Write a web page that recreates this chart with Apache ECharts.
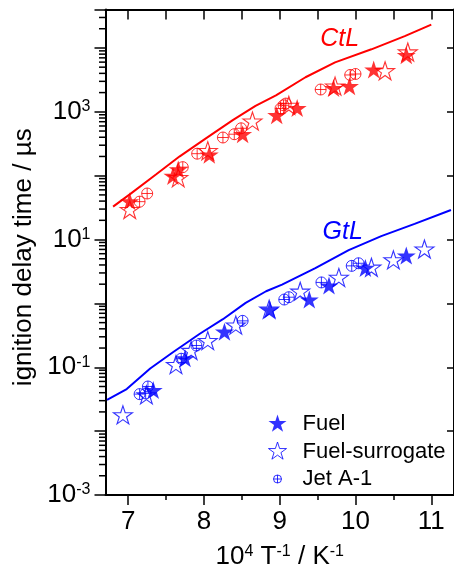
<!DOCTYPE html>
<html><head><meta charset="utf-8">
<script src="https://cdn.jsdelivr.net/npm/echarts@6/dist/echarts.min.js"></script>
<style>html,body{margin:0;padding:0;background:#fff}#c{width:454px;height:575px}</style>
</head><body><div id="c"></div>
<script>
// ---------- data ----------
const xMin = 6.7, xMax = 11.3, yMin = 0.001, yMax = 40000;
const xTickValues = [7, 8, 9, 10, 11];
const xHalfTicks = [7.5, 8.5, 9.5, 10.5];
const xTopTicks = [7, 7.5, 8, 8.5, 9, 9.5, 10, 10.5, 11];
const yLabelExps = [-3, -1, 1, 3];
const yMinorMultipliers = [2, 3, 4, 5, 6, 7, 8, 9];
const yDecades = [-3, -2, -1, 0, 1, 2, 3, 4];

const ctlX = [6.80, 7.02, 7.37, 7.68, 8.03, 8.38, 8.68, 8.95, 9.34, 9.73, 10.21, 10.65, 11.0];
const ctlY = [32.8, 51, 105, 201, 387, 741, 1238, 1806, 3478, 5933, 9520, 15290, 23200];
const gtlX = [6.72, 6.98, 7.29, 7.59, 7.94, 8.25, 8.55, 8.82, 9.03, 9.47, 9.91, 10.34, 10.78, 11.26];
const gtlY = [0.0308, 0.0456, 0.0955, 0.172, 0.332, 0.566, 1.02, 1.55, 1.97, 3.56, 6.84, 11.3, 17.6, 29.0];

const redFuelX = [7.02, 7.59, 7.66, 8.07, 8.51, 8.96, 9.23, 9.71, 9.92, 10.24, 10.67];
const redFuelY = [39.6, 99, 125, 213, 446, 886, 1145, 2350, 2520, 4590, 7690];
const redSurrX = [7.02, 7.66, 8.05, 8.64, 9.12, 9.73, 10.39, 10.69];
const redSurrY = [29.5, 93, 246, 716, 1265, 2520, 4400, 8650];
const redJetX = [7.15, 7.25, 7.72, 7.91, 8.25, 8.40, 8.49, 9.01, 9.05, 9.08, 9.54, 9.93, 10.00];
const redJetY = [39.2, 52.6, 136, 221, 396, 446, 552, 1125, 1266, 1346, 2235, 3776, 3910];

const blueFuelX = [7.33, 7.75, 8.27, 8.87, 9.39, 9.65, 10.13, 10.67];
const blueFuelY = [0.044, 0.138, 0.36, 0.80, 1.15, 1.90, 3.6, 5.6];
const blueSurrX = [6.93, 7.24, 7.63, 7.83, 8.05, 8.42, 8.86, 9.27, 9.78, 10.21, 10.50, 10.91];
const blueSurrY = [0.018, 0.037, 0.110, 0.183, 0.261, 0.457, 0.81, 1.55, 2.55, 3.68, 4.80, 7.10];
const blueJetX = [7.15, 7.23, 7.26, 7.70, 7.90, 8.51, 9.06, 9.12, 9.55, 9.95, 10.04];
const blueJetY = [0.038, 0.039, 0.050, 0.136, 0.219, 0.533, 1.15, 1.25, 2.13, 3.87, 4.25];

const ctlLabelPos = [9.79, 13600];
const gtlLabelPos = [9.83, 13.1];

// ---------- chart ----------
const FONT = '"Liberation Sans", Arial, Helvetica, sans-serif';
const RED = '#ff0000', BLUE = '#0000ff', BLACK = '#000000';
const STAR = 'path://M50 0 L61.2 34.55 L97.55 34.55 L68.2 55.9 L79.4 90.45 L50 69.1 L20.6 90.45 L31.8 55.9 L2.45 34.55 L38.8 34.55 Z';
const CPLUS = 'path://M0 10 A10 10 0 1 1 20 10 A10 10 0 1 1 0 10 Z M10 0 L10 20 M0 10 L20 10';
const LEG_STAR = 'path://M0 0 M40 20 M20 0.5 L22.13 7.06 L29.03 7.06 L23.45 11.12 L25.59 17.69 L20 13.63 L14.41 17.69 L16.55 11.12 L10.97 7.06 L17.87 7.06 Z';
const LEG_CPLUS = 'path://M0 0 M40 20 M16 10 A4 4 0 1 1 24 10 A4 4 0 1 1 16 10 Z M20 6 L20 14 M16 10 L24 10';
const HOLLOW = 'rgba(0,0,0,0)';

const zip = (xs, ys) => xs.map((x, i) => [x, ys[i]]);
const yMinorTicks = [];
yDecades.forEach(d => yMinorMultipliers.forEach(m => {
  const v = m * Math.pow(10, d);
  if (v < yMax) yMinorTicks.push(v);
}));

function fuel(color, data) {
  return { name: 'Fuel', type: 'scatter', data, symbol: STAR, symbolSize: [19, 18],
    itemStyle: { color: color, borderWidth: 0 }, silent: true, z: 4 };
}
function surr(color, data) {
  return { name: 'Fuel-surrogate', type: 'scatter', data, symbol: STAR, symbolSize: [19, 18],
    itemStyle: { color: HOLLOW, borderColor: color, borderWidth: 1.1 }, silent: true, z: 5 };
}
function jet(color, data) {
  return { name: 'Jet A-1', type: 'scatter', data, symbol: CPLUS, symbolSize: 11,
    itemStyle: { color: HOLLOW, borderColor: color, borderWidth: 1 }, silent: true, z: 4 };
}
function simLine(name, color, data, labelPos) {
  return { name, type: 'line', data, symbol: 'none', smooth: false, silent: true, z: 2,
    lineStyle: { color, width: 2 },
    markPoint: { symbol: 'circle', symbolSize: 0, silent: true,
      label: { show: true, formatter: name, position: 'inside', color, fontSize: 25,
        fontStyle: 'italic', fontFamily: FONT },
      data: [{ coord: labelPos }] } };
}

const supRich = { sup: { fontSize: 16, fontFamily: FONT, color: BLACK, verticalAlign: 'top', lineHeight: 16 } };

const option = {
  animation: false,
  backgroundColor: '#ffffff',
  grid: { left: 105.5, top: 9.5, width: 350.7, height: 491.2, containLabel: false },
  legend: {
    orient: 'vertical', left: 257, top: 413, padding: 0, itemWidth: 40, itemHeight: 20, itemGap: 5.5,
    selectedMode: false,
    textStyle: { fontSize: 22, fontFamily: FONT, color: BLACK },
    data: [
      { name: 'Fuel', icon: LEG_STAR, itemStyle: { color: BLUE, borderWidth: 0 } },
      { name: 'Fuel-surrogate', icon: LEG_STAR, itemStyle: { color: HOLLOW, borderColor: BLUE, borderWidth: 1 } },
      { name: 'Jet A-1', icon: LEG_CPLUS, itemStyle: { color: HOLLOW, borderColor: BLUE, borderWidth: 1 } }
    ]
  },
  xAxis: [
    { type: 'value', position: 'bottom', min: xMin, max: xMax,
      axisLine: { show: true, onZero: false, lineStyle: { color: BLACK, width: 2 } },
      axisTick: { show: true, inside: false, length: 10, customValues: xTickValues, lineStyle: { color: BLACK, width: 1.5 } },
      axisLabel: { show: true, customValues: xTickValues, fontSize: 26, fontFamily: FONT, color: BLACK, margin: 14 },
      splitLine: { show: false },
      name: '10{sup|4} T{sup|-1} / K{sup|-1}', nameLocation: 'middle', nameGap: 49,
      nameTextStyle: { fontSize: 26, fontFamily: FONT, color: BLACK, rich: supRich } },
    { type: 'value', position: 'bottom', min: xMin, max: xMax,
      axisLine: { show: false, onZero: false },
      axisTick: { show: true, inside: false, length: 5, customValues: xHalfTicks, lineStyle: { color: BLACK, width: 1.5 } },
      axisLabel: { show: false }, splitLine: { show: false } },
    { type: 'value', position: 'top', min: xMin, max: xMax,
      axisLine: { show: true, onZero: false, lineStyle: { color: BLACK, width: 2 } },
      axisTick: { show: true, inside: true, length: 10, customValues: xTopTicks, lineStyle: { color: BLACK, width: 1.5 } },
      axisLabel: { show: false }, splitLine: { show: false } }
  ],
  yAxis: [
    { type: 'log', logBase: 10, position: 'left', min: yMin, max: yMax,
      axisLine: { show: true, onZero: false, lineStyle: { color: BLACK, width: 2 } },
      axisTick: { show: true, inside: false, length: 11, lineStyle: { color: BLACK, width: 1.5 } },
      axisLabel: { show: true, margin: 15, fontSize: 26, fontFamily: FONT, color: BLACK,
        formatter: v => {
          const e = Math.log10(v), r = Math.round(e);
          if (Math.abs(e - r) > 1e-6) return '';
          return yLabelExps.indexOf(r) >= 0 ? '10{sup|' + r + '}' : '';
        },
        rich: supRich },
      splitLine: { show: false },
      name: 'ignition delay time / µs', nameLocation: 'middle', nameGap: 66,
      nameTextStyle: { fontSize: 26, fontFamily: FONT, color: BLACK, padding: [0, 10, 0, 0] } },
    { type: 'log', logBase: 10, position: 'right', min: yMin, max: yMax,
      axisLine: { show: true, onZero: false, lineStyle: { color: BLACK, width: 2 } },
      axisTick: { show: true, inside: true, length: 7, lineStyle: { color: BLACK, width: 1.5 } },
      axisLabel: { show: false }, splitLine: { show: false } }
  ],
  series: [
    { name: 'minor-ticks', type: 'custom', silent: true, clip: false, z: 1,
      data: yMinorTicks.map(v => [xMin, v]),
      renderItem: (params, api) => {
        const pt = api.coord([api.value(0), api.value(1)]);
        return { type: 'line', shape: { x1: pt[0] - 6.5, y1: pt[1], x2: pt[0], y2: pt[1] },
          style: { stroke: BLACK, lineWidth: 1.5 } };
      } },
    simLine('GtL', BLUE, zip(gtlX, gtlY), gtlLabelPos),
    simLine('CtL', RED, zip(ctlX, ctlY), ctlLabelPos),
    fuel(BLUE, zip(blueFuelX, blueFuelY)),
    surr(BLUE, zip(blueSurrX, blueSurrY)),
    jet(BLUE, zip(blueJetX, blueJetY)),
    fuel(RED, zip(redFuelX, redFuelY)),
    surr(RED, zip(redSurrX, redSurrY)),
    jet(RED, zip(redJetX, redJetY))
  ]
};

const chart = echarts.init(document.getElementById('c'), null, { renderer: 'canvas' });
chart.setOption(option);
</script>
</body></html>
